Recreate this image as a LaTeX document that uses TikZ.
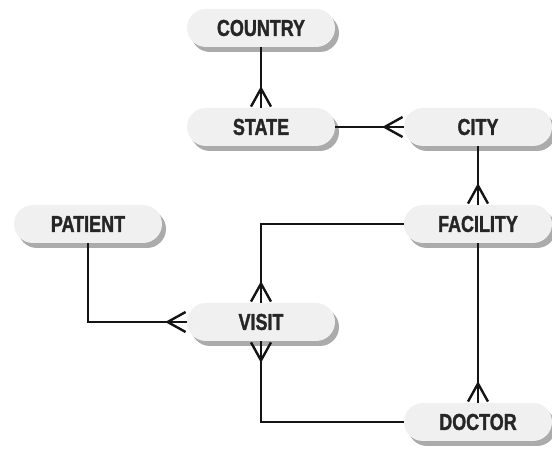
\documentclass[tikz,border=0pt]{standalone}
\usepackage{fontspec}
\usepackage{xcolor}
\usepackage{tikz}
\usetikzlibrary{arrows.meta, shadows, positioning}
\newfontfamily\erfont{Liberation Sans}[FakeStretch=0.78, FakeBold=1.4]
\definecolor{ERFill}{RGB}{240,240,240}
\definecolor{ERShade}{RGB}{150,150,150}
\definecolor{ERLine}{RGB}{20,20,20}

\begin{document}
\begin{tikzpicture}[x=1pt, y=1pt,
          ent/.style={rectangle, rounded corners=19pt, minimum width=148pt,
                      minimum height=38pt, fill=ERFill, inner sep=0pt,
                      font=\erfont\bfseries\fontsize{23}{25}\selectfont,
                      text=black!85,
                      drop shadow={shadow xshift=4pt, shadow yshift=-5pt,
                                   fill=ERShade, opacity=0.8}},
          crow/.style={-{Straight Barb[reversed, length=18pt, width=20pt]},
                       line width=2.4pt, ERLine, postaction={draw, -}}
        ]
        \useasboundingbox (0,0) rectangle (552,449);

        % Entities
        \node[ent] (country) at (261, 421) {COUNTRY};
        \node[ent] (state)   at (261, 322) {STATE};
        \node[ent] (city)    at (478, 322) {CITY};
        \node[ent] (facil)   at (478, 225) {FACILITY};
        \node[ent] (patient) at (88, 225)  {PATIENT};
        \node[ent] (visit)   at (261, 127) {VISIT};
        \node[ent] (doctor)  at (478, 27)  {DOCTOR};

        % Relationships
        \draw[crow] (country) -- (state);
        \draw[crow] (state) -- (city);
        \draw[crow] (city) -- (facil);
        \draw[crow] (facil) -- (doctor);
        \draw[crow] (facil.west) -| (visit.north);
        \draw[crow] (patient.south) |- (visit.west);
        \draw[crow] (doctor.west) -| (visit.south);
      \end{tikzpicture}
\end{document}
